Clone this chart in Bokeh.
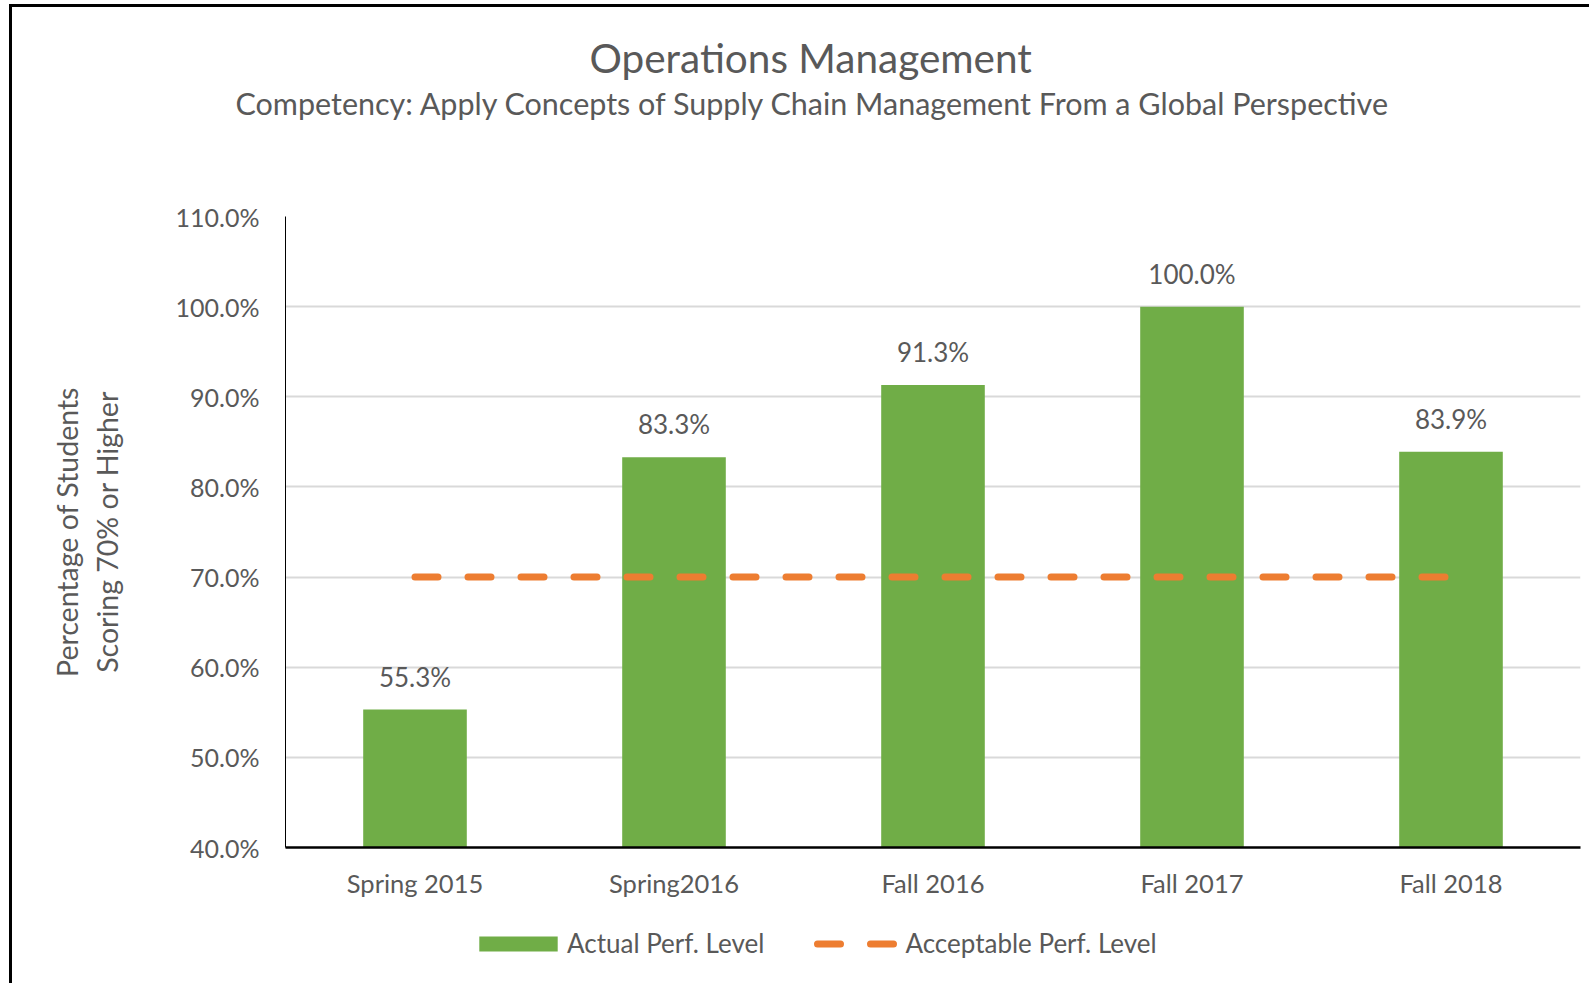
from bokeh.plotting import figure
from bokeh.layouts import column
from bokeh.models import (FactorRange, Range1d, FixedTicker, PrintfTickFormatter,
                          ColumnDataSource, LabelSet, Legend, LegendItem, Title)
from bokeh.core.properties import value
from bokeh.embed import file_html
from bokeh.resources import INLINE

# ---------------- data ----------------
categories = ["Spring 2015", "Spring2016", "Fall 2016", "Fall 2017", "Fall 2018"]
actual = [55.3, 83.3, 91.3, 100.0, 83.9]
acceptable = [70.0, 70.0, 70.0, 70.0, 70.0]
y_ticks = [40, 50, 60, 70, 80, 90, 100, 110]
series_names = ["Actual Perf. Level", "Acceptable Perf. Level"]
title_text = "Operations  Management"
subtitle_text = "Competency: Apply Concepts of Supply Chain Management From a Global Perspective"
y_title = "Percentage of Students\nScoring 70% or Higher"

# ---------------- style ----------------
FONT = "Lato"
TEXT = "#595959"
GREEN = "#70AD47"
ORANGE = "#ED7D31"
GRID = "#D9D9D9"

W, H = 1580, 895
L, R, T, B = 273, 12, 209, 55

p = figure(width=W, height=H,
           x_range=FactorRange(factors=categories, range_padding=0),
           y_range=Range1d(40, 110),
           output_backend="svg", toolbar_location=None,
           min_border_left=L, min_border_right=R, min_border_top=T, min_border_bottom=B)
p.styles = {"border-top": "3px solid black", "border-left": "3px solid black",
            "margin-left": "9px", "margin-top": "4px"}
p.outline_line_color = None
p.background_fill_color = "white"
p.border_fill_color = "white"

src = ColumnDataSource(dict(x=categories, y=actual, acc=acceptable,
                            txt=[f"{v:.1f}%" for v in actual]))

bars = p.vbar(x="x", top="y", bottom=40, width=0.4, source=src,
              fill_color=GREEN, line_color=None)
line = p.line(x="x", y="acc", source=src, line_color=ORANGE, line_width=7,
              line_dash="23 30", line_cap="round")

labels = LabelSet(x="x", y="y", text="txt", source=src, y_offset=23,
                  text_align="center", text_baseline="alphabetic",
                  text_font=value(FONT), text_font_size="26px", text_color=TEXT)
p.add_layout(labels)

# axes
p.yaxis.ticker = FixedTicker(ticks=y_ticks)
p.yaxis.formatter = PrintfTickFormatter(format="%.1f%%")
for ax in (p.xaxis[0], p.yaxis[0]):
    ax.major_label_text_font = FONT
    ax.major_label_text_color = TEXT
    ax.major_tick_line_color = None
    ax.minor_tick_line_color = None
    ax.major_tick_out = 0
    ax.major_tick_in = 0
    ax.minor_tick_out = 0
p.yaxis.major_label_text_font_size = "25px"
p.xaxis.major_label_text_font_size = "25.5px"
p.yaxis.axis_line_color = "black"
p.yaxis.axis_line_width = 1
p.yaxis.major_label_standoff = 26
p.yaxis.axis_label = y_title
p.yaxis.axis_label_text_font = FONT
p.yaxis.axis_label_text_font_size = "28.5px"
p.yaxis.axis_label_text_font_style = "normal"
p.yaxis.axis_label_text_color = TEXT
p.yaxis.axis_label_text_line_height = 1.16
p.yaxis.axis_label_standoff = 49
p.xaxis.axis_line_color = "black"
p.xaxis.axis_line_width = 2.5
p.xaxis.major_label_standoff = 20

p.xgrid.grid_line_color = None
p.ygrid.grid_line_color = GRID
p.ygrid.grid_line_width = 2

# titles: stacked from the frame upward (spacer, subtitle, title)
p.add_layout(Title(text=" ", text_font_size="1px", standoff=93), "above")
p.add_layout(Title(text=subtitle_text, align="left", offset=-50, vertical_align="bottom",
                   standoff=0, text_font=FONT, text_font_size="30.5px",
                   text_font_style="normal", text_color=TEXT), "above")
p.add_layout(Title(text=title_text, align="left", offset=304, vertical_align="bottom",
                   standoff=1, text_font=FONT, text_font_size="40.5px",
                   text_font_style="normal", text_color=TEXT), "above")

# legend strip below the chart (same series, drawn out of view; only the legend shows)
p2 = figure(width=W, height=84, x_axis_type=None, y_axis_type=None,
            x_range=FactorRange(factors=categories, range_padding=0),
            y_range=Range1d(1000, 1001),
            output_backend="svg", toolbar_location=None,
            min_border_left=0, min_border_right=0, min_border_top=0, min_border_bottom=0)
p2.styles = {"border-left": "3px solid black", "margin-left": "9px"}
p2.outline_line_color = None
p2.background_fill_color = "white"
p2.border_fill_color = "white"
leg_bar = p2.vbar(x="x", top="y", bottom=40, width=0.4, source=src,
                  fill_color=GREEN, line_color=None)
leg_line = p2.line(x="x", y="acc", source=src, line_color=ORANGE, line_width=7,
                   line_dash="23 30", line_dash_offset=43, line_cap="round")

legend = Legend(items=[LegendItem(label=series_names[0], renderers=[leg_bar]),
                       LegendItem(label=series_names[1], renderers=[leg_line])],
                orientation="horizontal", location=(184, 24),
                glyph_width=98, glyph_height=19, label_standoff=0, spacing=43,
                padding=0, margin=0, border_line_color=None, background_fill_alpha=0,
                label_text_font=FONT, label_text_font_size="26px", label_text_color=TEXT)
p2.add_layout(legend, "center")

layout = column(p, p2, spacing=0)
open("out.html", "w").write(file_html(layout, INLINE))
